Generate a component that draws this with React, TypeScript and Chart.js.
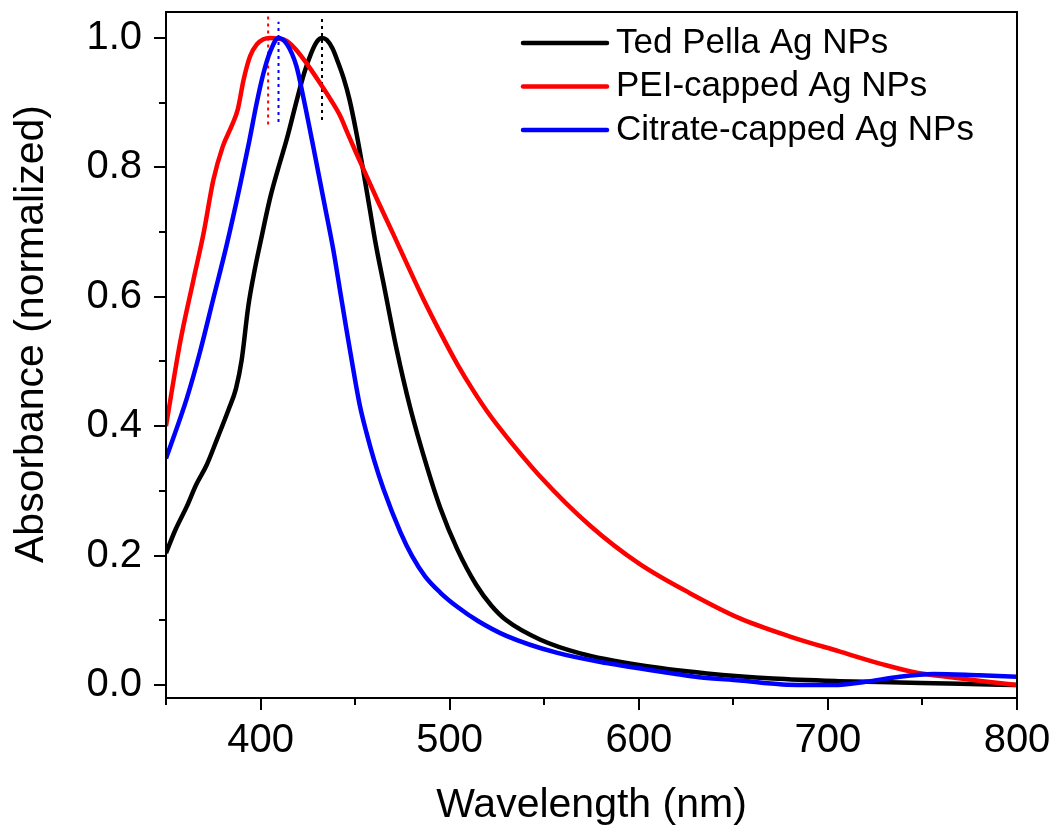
import React, { useEffect, useRef } from "react";
import { Chart, registerables } from "chart.js";

Chart.register(...registerables);

const FONT = "'Liberation Sans', Arial, sans-serif";

// Ted Pella Ag NPs (black)
const tedWavelengths = [350, 355, 361, 366, 371.5, 377, 383, 387, 390, 393.5, 397, 400, 405, 409, 414, 419, 423, 427, 430, 432.5, 435, 438, 441, 444, 447, 450.5, 454, 457.5, 461, 465, 472, 479, 488, 495, 504, 514, 522, 530, 548, 569, 600, 636, 671, 706, 738, 770, 800];
const tedAbsorbance = [0.204, 0.24, 0.276, 0.31, 0.34, 0.38, 0.425, 0.458, 0.502, 0.585, 0.643, 0.685, 0.752, 0.795, 0.845, 0.902, 0.945, 0.978, 0.995, 1.0, 0.997, 0.984, 0.962, 0.937, 0.905, 0.856, 0.8, 0.74, 0.68, 0.621, 0.518, 0.43, 0.337, 0.274, 0.21, 0.155, 0.123, 0.1, 0.07, 0.049, 0.031, 0.018, 0.01, 0.006, 0.004, 0.002, 0.0];

// PEI-capped Ag NPs (red)
const peiWavelengths = [350, 357.5, 364.5, 370, 375, 380, 385, 388, 391, 394.5, 398, 401.5, 405, 409, 414, 419, 425, 431.5, 437, 442, 446, 450, 454, 462, 470, 478, 486, 495, 504, 512.5, 521, 530, 548, 574, 600, 627, 653.5, 680, 706, 729, 747, 765, 782, 800];
const peiAbsorbance = [0.40, 0.53, 0.626, 0.70, 0.78, 0.832, 0.866, 0.89, 0.935, 0.972, 0.99, 0.998, 1.0, 0.999, 0.995, 0.981, 0.958, 0.93, 0.905, 0.88, 0.853, 0.826, 0.80, 0.748, 0.698, 0.647, 0.597, 0.545, 0.496, 0.455, 0.418, 0.384, 0.322, 0.247, 0.188, 0.142, 0.103, 0.075, 0.052, 0.032, 0.019, 0.012, 0.006, 0.0];

// Citrate-capped Ag NPs (blue)
const citWavelengths = [350, 361, 368, 375, 382, 389, 394, 398, 401.5, 405, 409.5, 414, 419, 422.5, 428, 434, 438.5, 442, 445.5, 449, 452.5, 456, 460, 465, 474, 480, 487, 495, 504, 515, 530, 556.5, 583, 618, 632, 653.5, 676, 703, 720, 738, 756, 780, 800];
const citAbsorbance = [0.35, 0.443, 0.515, 0.597, 0.679, 0.77, 0.84, 0.9, 0.945, 0.978, 1.0, 0.99, 0.956, 0.91, 0.83, 0.74, 0.672, 0.61, 0.548, 0.488, 0.432, 0.39, 0.348, 0.303, 0.236, 0.2, 0.168, 0.143, 0.121, 0.099, 0.076, 0.05, 0.034, 0.018, 0.012, 0.007, 0.001, 0.0, 0.005, 0.013, 0.017, 0.015, 0.013];

const seriesLabels = ["Ted Pella Ag NPs", "PEI-capped Ag NPs", "Citrate-capped Ag NPs"];
const seriesColors = ["#000000", "#ff0000", "#0000ff"];

// peak markers (dotted vertical lines): Ted, PEI, Citrate
const peakWavelengths = [432.5, 404, 409.5];
const peakMarkerLow = [0.873, 0.866, 0.87];
const peakMarkerHigh = [1.031, 1.039, 1.025];

const xMajorTicks = [400, 500, 600, 700, 800];
const xMinorTicks = [350, 450, 550, 650, 750];
const yMajorTicks = [0, 0.2, 0.4, 0.6, 0.8, 1.0];
const yMinorTicks = [0.1, 0.3, 0.5, 0.7, 0.9];
const xRange = [350, 800];
const yRange = [-0.02, 1.04];

const xTitle = "Wavelength (nm)";
const yTitle = "Absorbance (normalized)";

function toPoints(xs: number[], ys: number[]) {
  return xs.map((x, i) => ({ x, y: ys[i] }));
}

const framePlugin = {
  id: "framePlugin",
  afterDraw(chart: any) {
    const { ctx, chartArea } = chart;
    const xs = chart.scales.x;
    const ys = chart.scales.y;
    ctx.save();
    ctx.strokeStyle = "#000";
    ctx.lineWidth = 2;
    ctx.strokeRect(chartArea.left, chartArea.top, chartArea.right - chartArea.left, chartArea.bottom - chartArea.top);
    ctx.beginPath();
    xMajorTicks.forEach((v) => {
      const px = Math.round(xs.getPixelForValue(v));
      ctx.moveTo(px, chartArea.bottom);
      ctx.lineTo(px, chartArea.bottom + 12);
    });
    xMinorTicks.forEach((v) => {
      const px = Math.round(xs.getPixelForValue(v));
      ctx.moveTo(px, chartArea.bottom);
      ctx.lineTo(px, chartArea.bottom + 7);
    });
    yMajorTicks.forEach((v) => {
      const py = Math.round(ys.getPixelForValue(v));
      ctx.moveTo(chartArea.left, py);
      ctx.lineTo(chartArea.left - 12, py);
    });
    yMinorTicks.forEach((v) => {
      const py = Math.round(ys.getPixelForValue(v));
      ctx.moveTo(chartArea.left, py);
      ctx.lineTo(chartArea.left - 7, py);
    });
    ctx.stroke();

    ctx.fillStyle = "#000";
    ctx.font = `41px ${FONT}`;
    ctx.textAlign = "center";
    ctx.textBaseline = "middle";
    ctx.translate(32, 334);
    ctx.rotate(-Math.PI / 2);
    ctx.fillText(yTitle, 0, 0);
    ctx.restore();

    ctx.save();
    const lx = chartArea.left + 357;
    const ly = chartArea.top + 31;
    ctx.font = `35px ${FONT}`;
    ctx.textAlign = "left";
    ctx.textBaseline = "middle";
    seriesLabels.forEach((label, i) => {
      const y = ly + i * 43.5;
      ctx.strokeStyle = seriesColors[i];
      ctx.lineWidth = 4.5;
      ctx.lineCap = "round";
      ctx.beginPath();
      ctx.moveTo(lx, y);
      ctx.lineTo(lx + 84, y);
      ctx.stroke();
      ctx.fillStyle = "#000";
      ctx.fillText(label, lx + 93, y);
    });
    ctx.restore();
  },
};

export default function App() {
  const ref = useRef<HTMLCanvasElement | null>(null);

  useEffect(() => {
    if (!ref.current) return;
    const series = [
      { xs: tedWavelengths, ys: tedAbsorbance, order: 3 },
      { xs: peiWavelengths, ys: peiAbsorbance, order: 2 },
      { xs: citWavelengths, ys: citAbsorbance, order: 1 },
    ];
    const datasets: any[] = series.map((s, i) => ({
      label: seriesLabels[i],
      data: toPoints(s.xs, s.ys),
      borderColor: seriesColors[i],
      backgroundColor: seriesColors[i],
      borderWidth: 4.5,
      pointRadius: 0,
      cubicInterpolationMode: "monotone",
      order: s.order,
    }));
    peakWavelengths.forEach((w, i) => {
      datasets.push({
        label: "peak-" + i,
        data: [
          { x: w, y: peakMarkerLow[i] },
          { x: w, y: peakMarkerHigh[i] },
        ],
        borderColor: seriesColors[i],
        borderWidth: 2,
        borderDash: [3, 4],
        pointRadius: 0,
        order: 4,
      });
    });

    const chart = new Chart(ref.current, {
      type: "line",
      data: { datasets },
      options: {
        animation: false,
        responsive: false,
        devicePixelRatio: 1,
        layout: { padding: { top: 12, right: 39, left: 0, bottom: 0 } },
        plugins: {
          legend: { display: false },
          tooltip: { enabled: false },
        },
        scales: {
          x: {
            type: "linear",
            min: xRange[0],
            max: xRange[1],
            afterBuildTicks: (scale: any) => {
              scale.ticks = xMajorTicks.map((v) => ({ value: v }));
            },
            afterFit: (scale: any) => {
              scale.height = 132;
              scale.paddingLeft = 0;
              scale.paddingRight = 0;
            },
            grid: { display: false, drawTicks: false },
            border: { display: false },
            ticks: {
              color: "#000",
              font: { family: FONT, size: 40 },
              padding: 19,
              maxRotation: 0,
              autoSkip: false,
              callback: (v: any) => String(v),
            },
            title: {
              display: true,
              text: xTitle,
              color: "#000",
              font: { family: FONT, size: 41 },
              padding: { top: 0, bottom: 0 },
            },
          },
          y: {
            type: "linear",
            min: yRange[0],
            max: yRange[1],
            afterBuildTicks: (scale: any) => {
              scale.ticks = yMajorTicks.map((v) => ({ value: v }));
            },
            afterFit: (scale: any) => {
              scale.width = 166;
              scale.paddingTop = 0;
              scale.paddingBottom = 0;
            },
            grid: { display: false, drawTicks: false },
            border: { display: false },
            ticks: {
              color: "#000",
              font: { family: FONT, size: 40 },
              padding: 24,
              autoSkip: false,
              callback: (v: any) => Number(v).toFixed(1),
            },
          },
        },
      },
      plugins: [framePlugin],
    });
    return () => chart.destroy();
  }, []);

  return (
    <div style={{ position: "absolute", left: 0, top: 0, width: 1056, height: 830, background: "#fff" }}>
      <canvas ref={ref} width={1056} height={830} style={{ display: "block" }} />
    </div>
  );
}
